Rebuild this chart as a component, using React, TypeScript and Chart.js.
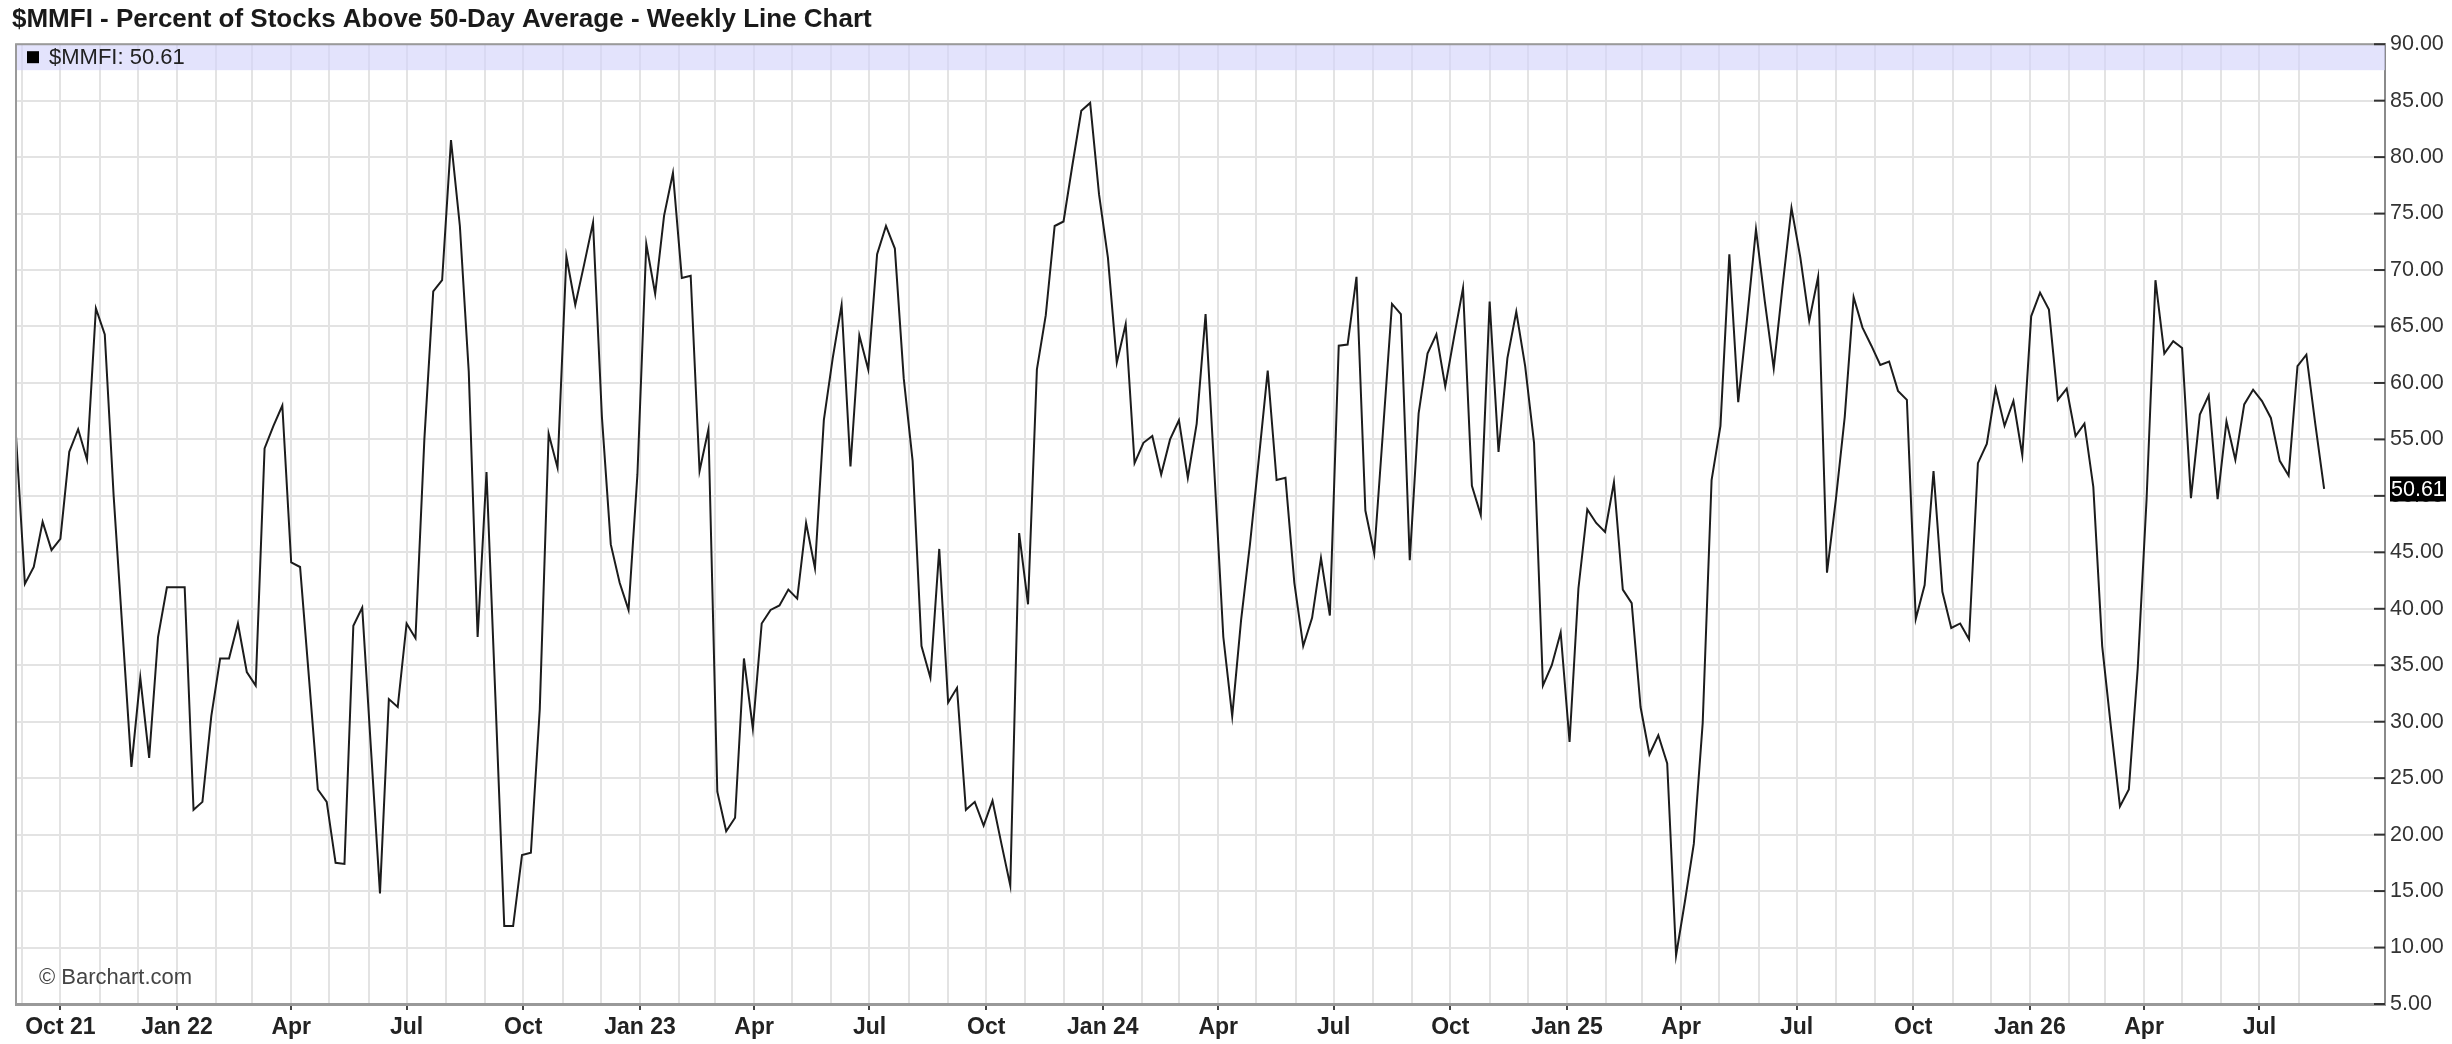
import React, { useEffect, useRef } from "react";
import { Chart, registerables } from "chart.js";

Chart.register(...registerables);

const SYMBOL = "$MMFI";
const TITLE = "$MMFI - Percent of Stocks Above 50-Day Average - Weekly Line Chart";
const COPYRIGHT = "© Barchart.com";
const FIRST_WEEK = "2021-08-27";

// weekly closes, grouped by calendar year
const values2021 = [55.3, 42.2, 43.7, 47.7, 45.2, 46.2, 53.9, 55.9, 53.2, 66.6, 64.3, 50, 38, 26.0, 33.9, 26.8, 37.5, 41.9, 41.9];
const values2022 = [
  41.9, 22.2, 22.9, 30.5, 35.6, 35.6, 38.7, 34.4, 33.2, 54.2,
  56.2, 58.0, 44.1, 43.7, 33.9, 24.0, 22.9, 17.5, 17.4, 38.5,
  40.1, 27.4, 14.8, 32.0, 31.3, 38.7, 37.4, 55, 68.1, 69.1,
  81.5, 73.9, 61.0, 37.5, 52.1, 32.2, 11.9, 11.9, 18.2, 18.4,
  31.1, 55.5, 52.5, 71.2, 66.9, 70.5, 74.2, 57.0, 45.7, 42.3,
  39.9, 51.9,
];
const values2023 = [
  72.3, 67.9, 74.8, 78.6, 69.3, 69.5, 52.2, 55.9, 23.8, 20.3,
  21.5, 35.6, 29.4, 38.7, 39.9, 40.3, 41.7, 40.9, 47.6, 43.6,
  56.7, 62.2, 66.9, 52.6, 64.2, 61.2, 71.4, 73.9, 71.9, 60.4,
  53.1, 36.7, 33.9, 45.3, 31.7, 33.0, 22.2, 22.9, 20.8, 23.0,
  19.2, 15.5, 46.7, 40.4, 61.2, 66.0, 73.9, 74.3, 79.3, 84.1,
  84.8, 76.7,
];
const values2024 = [
  71.1, 61.8, 65.2, 52.9, 54.7, 55.3, 51.9, 55.0, 56.7, 51.6,
  56.4, 66.1, 52, 37.5, 30.5, 39.0, 45.7, 53.3, 61.1, 51.4,
  51.6, 42.3, 36.7, 39.2, 44.5, 39.4, 63.3, 63.4, 69.4, 48.7,
  44.9, 55.9, 67.0, 66.1, 44.3, 57.3, 62.6, 64.3, 59.7, 64.1,
  68.4, 50.9, 48.3, 67.2, 53.9, 62.2, 66.3, 61.5, 54.7, 33.2,
  35.0, 37.9,
];
const values2025 = [
  28.2, 41.8, 48.8, 47.6, 46.8, 51.2, 41.7, 40.5, 31.3, 27.1,
  28.8, 26.3, 9.3, 14.1, 19.2, 29.9, 51.4, 56.2, 71.4, 58.3,
  65.7, 73.6, 67.2, 61.3, 68.6, 75.5, 71.1, 65.5, 69.4, 43.2,
  49.7, 57.0, 67.6, 64.9, 63.3, 61.6, 61.9, 59.3, 58.5, 39.1,
  42.1, 52.2, 41.5, 38.3, 38.7, 37.3, 52.9, 54.6, 59.5, 56.2,
  58.4, 53.6,
];
const values2026 = [
  65.9, 68.0, 66.5, 58.5, 59.5, 55.3, 56.4, 50.8, 36.7, 29.4,
  22.5, 24.0, 34.7, 49.7, 69.1, 62.6, 63.7, 63.1, 49.8, 57.2,
  58.9, 49.7, 56.6, 53.2, 58.1, 59.4, 58.4, 56.9, 53.1, 51.8,
  61.5, 62.5, 56.4, 50.61,
];

const QUARTER_LABELS = [
  "Oct 21", "Jan 22", "Apr", "Jul", "Oct", "Jan 23", "Apr", "Jul", "Oct", "Jan 24",
  "Apr", "Jul", "Oct", "Jan 25", "Apr", "Jul", "Oct", "Jan 26", "Apr", "Jul",
];

const Y_MIN = 5;
const Y_MAX = 90;
const Y_STEP = 5;

const FONT = "'Liberation Sans', Arial, Helvetica, sans-serif";
const W = 2452;
const H = 1044;
const RIGHT_PAD_DAYS = 48;

const series = [...values2021, ...values2022, ...values2023, ...values2024, ...values2025, ...values2026];
const DAY = 86400000;
const startMs = Date.parse(FIRST_WEEK + "T00:00:00Z");
const points = series.map((v, i) => ({ x: i * 7, y: v }));
const lastDay = (series.length - 1) * 7;
const lastValue = series[series.length - 1];

const monthTicks: number[] = [];
const tickLabels = new Map<number, string>();
(() => {
  const d0 = new Date(startMs);
  let yr = d0.getUTCFullYear();
  let mo = d0.getUTCMonth() + 1;
  let q = 0;
  for (;;) {
    if (mo > 11) { mo = 0; yr++; }
    const day = (Date.UTC(yr, mo, 1) - startMs) / DAY;
    if (day > lastDay) break;
    monthTicks.push(day);
    if (mo % 3 === 0) tickLabels.set(day, QUARTER_LABELS[q++] ?? "");
    mo++;
  }
})();

const decor = {
  id: "decor",
  beforeDatasetsDraw(chart: any) {
    const { ctx, chartArea: a } = chart;
    ctx.save();
    ctx.fillStyle = "rgba(212,212,250,0.65)";
    ctx.fillRect(a.left, a.top, a.right - a.left, 26);
    ctx.restore();
  },
  afterDatasetsDraw(chart: any) {
    const { ctx, chartArea: a } = chart;
    const yScale = chart.scales.y;
    ctx.save();
    // frame left and top
    ctx.strokeStyle = "#9a9a9a";
    ctx.lineWidth = 2;
    ctx.beginPath();
    ctx.moveTo(a.left, a.bottom);
    ctx.lineTo(a.left, a.top);
    ctx.lineTo(a.right, a.top);
    ctx.stroke();
    // inward tick marks on the right axis
    ctx.strokeStyle = "#333";
    ctx.lineWidth = 2;
    for (const t of yScale.ticks) {
      const py = yScale.getPixelForValue(t.value);
      ctx.beginPath();
      ctx.moveTo(a.right - 11, py);
      ctx.lineTo(a.right, py);
      ctx.stroke();
    }
    // legend inside band
    ctx.fillStyle = "#000";
    ctx.fillRect(a.left + 11, a.top + 7, 12, 12);
    ctx.font = `22px ${FONT}`;
    ctx.textBaseline = "middle";
    ctx.fillStyle = "#222";
    ctx.fillText(`${SYMBOL}: ${lastValue.toFixed(2)}`, a.left + 33, a.top + 13.5);
    // copyright
    ctx.fillStyle = "#444";
    ctx.fillText(COPYRIGHT, a.left + 23, a.bottom - 26);
    ctx.restore();
  },
  afterDraw(chart: any) {
    const { ctx, chartArea: a } = chart;
    const yScale = chart.scales.y;
    const py = yScale.getPixelForValue(lastValue);
    ctx.save();
    ctx.fillStyle = "#000";
    ctx.fillRect(a.right + 5, py - 12.5, 56, 25);
    ctx.fillStyle = "#fff";
    ctx.font = `21.5px ${FONT}`;
    ctx.textBaseline = "middle";
    ctx.fillText(lastValue.toFixed(2), a.right + 6, py + 1);
    ctx.restore();
  },
};

export default function App() {
  const ref = useRef<HTMLCanvasElement | null>(null);
  useEffect(() => {
    document.body.style.margin = "0";
    const canvas = ref.current;
    if (!canvas) return;
    const chart = new Chart(canvas, {
      type: "line",
      data: {
        datasets: [
          {
            label: SYMBOL,
            data: points,
            xAxisID: "x",
            yAxisID: "y",
            borderColor: "#1c1c1c",
            borderWidth: 2,
            pointRadius: 0,
            tension: 0,
            fill: false,
          },
        ],
      },
      options: {
        animation: false,
        responsive: false,
        events: [],
        layout: { padding: { left: 12, right: 0, top: 0, bottom: 0 } },
        plugins: {
          legend: { display: false },
          tooltip: { enabled: false },
          title: {
            display: true,
            text: TITLE,
            align: "start",
            color: "#1a1a1a",
            font: { family: FONT, size: 26, weight: "bold" },
            padding: { top: 4, bottom: 9 },
          },
        },
        scales: {
          y: {
            type: "linear",
            position: "right",
            min: Y_MIN,
            max: Y_MAX,
            afterFit: (s: any) => { s.width = 67; },
            ticks: {
              stepSize: Y_STEP,
              padding: 5,
              color: "#333",
              font: { family: FONT, size: 21.5 },
              callback: (v: any) => Number(v).toFixed(2),
            },
            grid: { color: "#e3e3e3", lineWidth: 2, drawTicks: false },
            border: { display: true, color: "#8a8a8a", width: 2 },
          },
          yLeft: {
            type: "linear",
            position: "left",
            display: true,
            afterFit: (s: any) => { s.width = 4; },
            ticks: { display: false },
            grid: { display: false, drawTicks: false },
            border: { display: false },
          },
          x: {
            type: "linear",
            position: "bottom",
            min: 0,
            max: lastDay + RIGHT_PAD_DAYS,
            afterFit: (s: any) => { s.height = 40; },
            afterBuildTicks: (s: any) => {
              s.ticks = monthTicks.map((v) => ({ value: v }));
            },
            ticks: {
              autoSkip: false,
              maxRotation: 0,
              minRotation: 0,
              padding: 4,
              color: "#222",
              font: { family: FONT, size: 23, weight: "bold" },
              callback: (v: any) => tickLabels.get(Number(v)) ?? "",
            },
            grid: {
              color: "#e3e3e3",
              lineWidth: 2,
              drawTicks: true,
              tickLength: 6,
              tickColor: (c: any) => (c.tick && c.tick.label ? "#444" : "rgba(0,0,0,0)"),
              tickWidth: 2,
            },
            border: { display: true, color: "#999", width: 3 },
          },
        },
      },
      plugins: [decor],
    } as any);
    return () => chart.destroy();
  }, []);
  return (
    <div style={{ position: "fixed", left: 0, top: 0, width: W, height: H, background: "#fff" }}>
      <canvas ref={ref} width={W} height={H} style={{ width: W, height: H, display: "block" }} />
    </div>
  );
}
